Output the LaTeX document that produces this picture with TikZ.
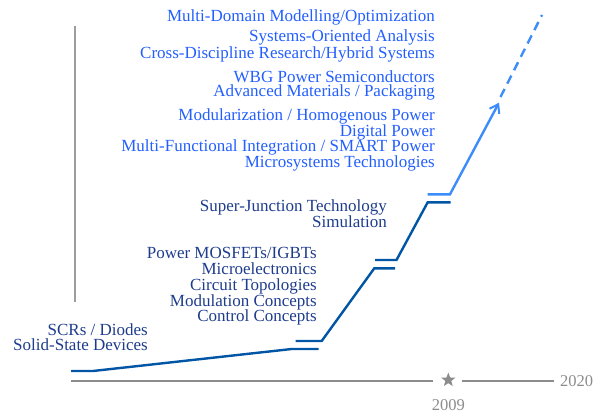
\documentclass[tikz,border=0pt]{standalone}
\usepackage{fontspec}
\setmainfont{Liberation Serif}
\usetikzlibrary{arrows.meta,shapes.geometric}
\definecolor{topblue}{RGB}{35,95,255}
\definecolor{navytext}{RGB}{30,60,140}
\definecolor{darkline}{RGB}{0,85,165}
\definecolor{lightline}{RGB}{60,140,250}
\definecolor{axisgray}{RGB}{140,140,140}
\tikzset{
  toptxt/.style={font=\fontsize{17}{17}\selectfont, text=topblue, anchor=base east, inner sep=0pt, text height=10.5pt, text depth=3.3pt},
  navytxt/.style={font=\fontsize{17}{17}\selectfont, text=navytext, anchor=base east, inner sep=0pt, text height=10.5pt, text depth=3.3pt},
  graytxt/.style={font=\fontsize{16.5}{16.5}\selectfont, text=axisgray, inner sep=0pt},
  era/.style={draw=darkline, line width=2.4pt},
  future/.style={draw=lightline, line width=2.4pt},
  axisline/.style={draw=axisgray, line width=1.2pt},
}
\begin{document}
\begin{tikzpicture}[x=1pt,y=-1pt]
\useasboundingbox (0,0) rectangle (595,412);
% texts - top group
\node[toptxt] (t1) at (435,21.8) {Multi-Domain Modelling/Optimization};
\node[toptxt] (t2) at (435,41.2) {Systems-Oriented Analysis};
\node[toptxt] (t3) at (435,58.8) {Cross-Discipline Research/Hybrid Systems};
\node[toptxt] (t4) at (435,82.2) {WBG Power Semiconductors};
\node[toptxt] (t5) at (435,96.5) {Advanced Materials / Packaging};
\node[toptxt] (t6) at (435,120.2) {Modularization / Homogenous Power};
\node[toptxt] (t7) at (435,136.2) {Digital Power};
\node[toptxt] (t8) at (435,151.2) {Multi-Functional Integration / SMART Power};
\node[toptxt] (t9) at (435,167.2) {Microsystems Technologies};
% navy texts
\node[navytxt] (s1) at (387,211.2) {Super-Junction Technology};
\node[navytxt] (s2) at (387,227.2) {Simulation};
\node[navytxt] (p1) at (317,258.8) {Power MOSFETs/IGBTs};
\node[navytxt] (p2) at (317,274.5) {Microelectronics};
\node[navytxt] (p3) at (317,290.2) {Circuit Topologies};
\node[navytxt] (p4) at (317,306.2) {Modulation Concepts};
\node[navytxt] (p5) at (317,321.2) {Control Concepts};
\node[navytxt] (c1) at (148,335.2) {SCRs / Diodes};
\node[navytxt] (c2) at (148,350.5) {Solid-State Devices};
% vertical gray line
\coordinate (vtop) at (75,26);
\coordinate (vbot) at (75,302);
\draw[draw=axisgray!85, line width=1.5pt] (vtop) -- (vbot);
% time axis
\coordinate (ax0) at (71,381);
\coordinate (ax1) at (432.5,381);
\node[star, star points=5, star point ratio=2.4, minimum size=15pt, inner sep=0pt, fill=axisgray] (star) at (448.3,380) {};
\coordinate (ax2) at (461.7,381);
\coordinate (ax3) at (554,381);
\draw[axisline] (ax0) -- (ax1);
\draw[axisline] (ax2) -- (ax3);
\node[graytxt, anchor=west] (y2020) at (560,381) {2020};
\node[graytxt, anchor=base, text depth=0pt] (y2009) at (448.3,410) {2009};
% era 1
\coordinate (a1) at (71,371);
\coordinate (a2) at (93,371);
\coordinate (a3) at (291.7,349);
\coordinate (a4) at (318.5,349);
\draw[era] (a1) -- (a2) -- (a3) -- (a4);
% era 2
\coordinate (b1) at (295.7,341);
\coordinate (b2) at (321.7,341);
\coordinate (b3) at (374.3,268.3);
\coordinate (b4) at (395,268.3);
\draw[era] (b1) -- (b2) -- (b3) -- (b4);
% era 3
\coordinate (e1) at (375,260);
\coordinate (e2) at (396.5,260);
\coordinate (e3) at (427.7,202.3);
\coordinate (e4) at (450.7,202.3);
\draw[era] (e1) -- (e2) -- (e3) -- (e4);
% era 4
\coordinate (f1) at (427.7,194.3);
\coordinate (f2) at (450,194.3);
\coordinate (f3) at (499,102.7);
\draw[future, -{Straight Barb[length=8pt,width=11pt,line width=2pt]}] (f1) -- (f2) -- (f3);
\coordinate (g1) at (500.5,97);
\coordinate (g2) at (542,15);
\draw[future, dash pattern=on 9pt off 6pt] (g1) -- (g2);
\end{tikzpicture}
\end{document}
